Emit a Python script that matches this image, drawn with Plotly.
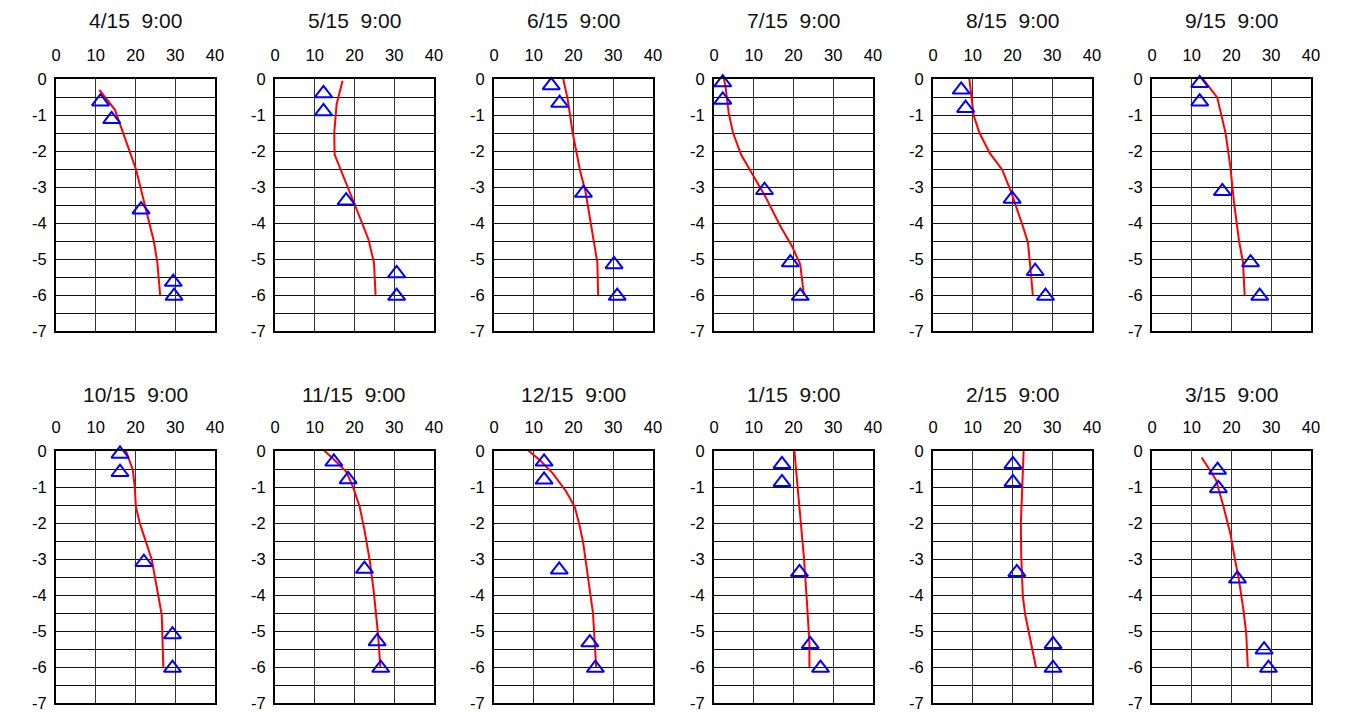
import plotly.graph_objects as go

# ---------------- data ----------------
titles = ["4/15", "5/15", "6/15", "7/15", "8/15", "9/15",
          "10/15", "11/15", "12/15", "1/15", "2/15", "3/15"]
time_label = "9:00"

# simulated profile (red line): depth (m) and temperature (°C)
line_depth = [
    [-0.3, -0.85, -2.5, -3.5, -4.5, -5.1, -6.0],
    [-0.05, -0.7, -1.5, -2.1, -3.5, -4.45, -5.1, -6.0],
    [0.16, -0.54, -1.5, -2.57, -3.12, -4.69, -5.1, -6.0],
    [0.16, -0.21, -0.95, -1.5, -2.1, -2.7, -3.26, -4.09, -4.64, -5.15, -6.0],
    [0.05, -1.0, -1.5, -2.06, -2.52, -3.12, -4.09, -4.55, -5.48, -6.0],
    [0.16, -0.51, -1.5, -2.43, -3.5, -4.5, -5.1, -6.0],
    [0.12, -0.51, -0.99, -1.55, -2.01, -2.56, -3.02, -4.0, -4.55, -6.0],
    [0.07, -0.2, -0.57, -0.99, -1.55, -2.19, -3.02, -3.86, -5.06, -6.0],
    [0.07, -0.25, -0.62, -1.13, -1.55, -2.01, -2.52, -3.49, -4.5, -6.0],
    [0.03, -1.55, -2.93, -4.23, -5.34, -6.0],
    [0.0, -0.99, -2.01, -2.93, -4.04, -4.55, -5.25, -6.0],
    [-0.18, -0.53, -0.8, -1.55, -2.29, -3.03, -3.53, -4.41, -5.06, -6.0],
]
line_temp = [
    [10.9, 14.8, 20.1, 22.4, 24.6, 25.5, 26.2],
    [17.0, 15.5, 14.9, 15.0, 20.1, 23.5, 24.9, 25.3],
    [17.1, 18.5, 19.8, 21.7, 23.0, 25.5, 26.0, 26.2],
    [2.2, 2.9, 3.7, 4.8, 6.8, 10.0, 12.9, 16.7, 19.6, 21.7, 22.6],
    [9.1, 10.2, 11.7, 14.3, 17.4, 19.6, 22.6, 23.9, 24.7, 25.1],
    [11.7, 16.4, 18.5, 19.7, 20.7, 21.9, 22.9, 23.3],
    [17.2, 19.3, 19.8, 20.1, 21.1, 22.8, 24.1, 25.7, 26.6, 27.0],
    [11.8, 14.5, 17.9, 19.6, 21.3, 22.5, 23.8, 24.8, 25.9, 26.5],
    [8.0, 11.5, 14.8, 18.2, 20.3, 21.4, 22.4, 23.6, 24.9, 25.7],
    [20.2, 21.5, 22.6, 23.4, 24.0, 24.0],
    [22.8, 22.4, 22.1, 22.2, 22.6, 23.2, 24.5, 25.9],
    [12.5, 14.5, 16.1, 18.0, 19.7, 20.9, 21.8, 23.0, 23.7, 24.1],
]

# observed values (blue triangles)
obs_depth = [
    [-0.63, -1.12, -3.63, -5.64, -6.03],
    [-0.40, -0.90, -3.38, -5.40, -6.03],
    [-0.18, -0.67, -3.17, -5.15, -6.03],
    [-0.10, -0.58, -3.09, -5.10, -6.03],
    [-0.30, -0.81, -3.33, -5.34, -6.03],
    [-0.12, -0.63, -3.12, -5.10, -6.03],
    [-0.08, -0.59, -3.09, -5.10, -6.03],
    [-0.30, -0.79, -3.28, -5.29, -6.03],
    [-0.30, -0.80, -3.30, -5.32, -6.03],
    [-0.37, -0.87, -3.37, -5.37, -6.03],
    [-0.37, -0.87, -3.37, -5.37, -6.03],
    [-0.53, -1.04, -3.55, -5.52, -6.03],
]
obs_temp = [
    [11.2, 14.0, 21.4, 29.5, 29.7],
    [12.2, 12.2, 17.9, 30.6, 30.6],
    [14.4, 16.5, 22.5, 30.2, 31.0],
    [2.2, 2.2, 12.7, 19.2, 21.7],
    [7.1, 8.2, 19.9, 25.7, 28.3],
    [12.0, 12.0, 17.7, 24.8, 27.1],
    [16.1, 16.1, 22.1, 29.3, 29.3],
    [14.8, 18.4, 22.5, 25.7, 26.6],
    [12.6, 12.6, 16.4, 24.1, 25.5],
    [17.1, 17.1, 21.5, 24.2, 26.8],
    [20.1, 20.1, 21.1, 30.2, 30.2],
    [16.5, 16.7, 21.5, 28.2, 29.3],
]

x_ticks = [0, 10, 20, 30, 40]
y_ticks = [0, -1, -2, -3, -4, -5, -6, -7]

# ---------------- layout geometry (pixels) ----------------
W, H = 1353, 712
col_left = [56, 275, 494, 714, 933, 1152]
panel_w = 159
row_top = [79, 451]
panel_h = 252
title_y = [21, 394]

FONT = "Liberation Sans, Arial, sans-serif"
TICK_SIZE = 16.5

fig = go.Figure()
layout = dict(
    width=W, height=H, autosize=False,
    margin=dict(l=0, r=0, t=0, b=0, pad=0),
    paper_bgcolor="white", plot_bgcolor="white",
    showlegend=False,
    font=dict(family=FONT, color="black", size=TICK_SIZE),
)
annotations = []

for i in range(12):
    r, c = divmod(i, 6)
    n = i + 1
    xa = "x" if n == 1 else f"x{n}"
    ya = "y" if n == 1 else f"y{n}"
    x0 = col_left[c] / W
    x1 = (col_left[c] + panel_w) / W
    y1 = 1 - row_top[r] / H
    y0 = 1 - (row_top[r] + panel_h) / H

    fig.add_trace(go.Scatter(
        x=line_temp[i], y=line_depth[i], mode="lines",
        line=dict(color="#FF0000", width=2),
        xaxis=xa, yaxis=ya, cliponaxis=False, hoverinfo="skip"))
    fig.add_trace(go.Scatter(
        x=obs_temp[i], y=obs_depth[i], mode="markers",
        marker=dict(symbol="triangle-up-open", size=15,
                    color="#0000FF", line=dict(color="#0000FF", width=2)),
        xaxis=xa, yaxis=ya, cliponaxis=False, hoverinfo="skip"))

    xkey = "xaxis" if n == 1 else f"xaxis{n}"
    ykey = "yaxis" if n == 1 else f"yaxis{n}"
    layout[xkey] = dict(
        domain=[x0, x1], anchor=ya, side="top", automargin=False,
        range=[0, 40], tickvals=x_ticks, ticktext=[str(v) for v in x_ticks],
        showgrid=True, gridcolor="#333333", gridwidth=1,
        showline=True, linecolor="black", linewidth=2, mirror=True,
        zeroline=False, ticks="", ticklabelstandoff=9,
        tickfont=dict(size=TICK_SIZE, family=FONT, color="black"),
    )
    layout[ykey] = dict(
        domain=[y0, y1], anchor=xa, automargin=False,
        range=[-7, 0], tickvals=y_ticks, ticktext=[str(v) for v in y_ticks],
        showgrid=False,
        showline=True, linecolor="black", linewidth=2, mirror=True,
        zeroline=False, ticks="", ticklabelstandoff=4,
        tickfont=dict(size=TICK_SIZE, family=FONT, color="black"),
        minor=dict(tickvals=[-0.5 - k for k in range(7)] + y_ticks,
                   showgrid=True, gridcolor="#111111", gridwidth=1),
    )
    annotations.append(dict(
        text=f"{titles[i]}\u00a0\u00a0{time_label}",
        x=(x0 + x1) / 2, y=1 - title_y[r] / H,
        xref="paper", yref="paper", xanchor="center", yanchor="middle",
        showarrow=False, font=dict(size=21, family=FONT, color="#111111")))

layout["annotations"] = annotations
fig.update_layout(**layout)

fig.write_html("out.html", config={"displayModeBar": False},
               post_script="document.body.style.margin='0';")
